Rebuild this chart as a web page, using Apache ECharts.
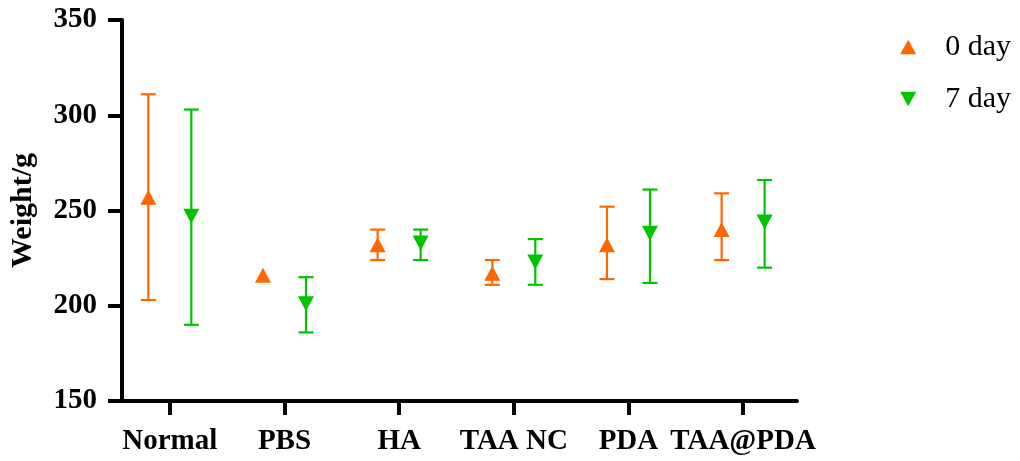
<!DOCTYPE html>
<html>
<head>
<meta charset="utf-8">
<script src="https://cdn.jsdelivr.net/npm/echarts@6/dist/echarts.min.js"></script>
<style>html,body{margin:0;padding:0;background:#fff}#c{width:1020px;height:461px}</style>
</head>
<body>
<div id="c"></div>
<script>
const categories = ['Normal', 'PBS', 'HA', 'TAA NC', 'PDA', 'TAA@PDA'];
const yTicks = [150, 200, 250, 300, 350];
const seriesNames = ['0 day', '7 day'];
const day0Mean = [257, 216, 232, 217, 232, 240];
const day0Low  = [203, 216, 224, 211, 214, 224];
const day0High = [311, 216, 240, 224, 252, 259];
const day7Mean = [247, 201, 233, 223, 238, 244];
const day7Low  = [190, 186, 224, 211, 212, 220];
const day7High = [303, 215, 240, 235, 261, 266];

const ORANGE = '#FF6600', GREEN = '#00C400';
const FONT = '"Liberation Serif", "Times New Roman", serif';
const OFFSET = 21.5;

function errData(low, high) {
  return categories.map((c, i) => [i, low[i], high[i]]);
}
function errSeries(name, low, high, color, dx) {
  return {
    type: 'custom', name: name, silent: true, z: 2,
    data: errData(low, high),
    renderItem: function (params, api) {
      const x = api.coord([api.value(0), api.value(1)])[0] + dx;
      const yl = api.coord([api.value(0), api.value(1)])[1];
      const yh = api.coord([api.value(0), api.value(2)])[1];
      if (Math.abs(yl - yh) < 0.5) return null;
      const hw = 7.5;
      const st = { stroke: color, lineWidth: 2.2 };
      return { type: 'group', children: [
        { type: 'line', shape: { x1: x, y1: yl, x2: x, y2: yh }, style: st },
        { type: 'line', shape: { x1: x - hw, y1: yl, x2: x + hw, y2: yl }, style: st },
        { type: 'line', shape: { x1: x - hw, y1: yh, x2: x + hw, y2: yh }, style: st }
      ]};
    }
  };
}

const downTri = 'path://M0,0 L10,0 L5,9 Z';
const upTri = 'path://M5,0 L10,9 L0,9 Z';

const chart = echarts.init(document.getElementById('c'), null, { renderer: 'canvas' });
chart.setOption({
  animation: false,
  backgroundColor: '#fff',
  grid: { left: 118, right: 223, top: 20, bottom: 60, containLabel: false },
  legend: {
    right: 4, top: 27, orient: 'vertical', itemGap: 22,
    itemWidth: 16, itemHeight: 15,
    textStyle: { fontFamily: FONT, fontSize: 30, color: '#000', padding: [0, 0, 0, 24] },
    data: [
      { name: seriesNames[0], icon: upTri, itemStyle: { color: ORANGE } },
      { name: seriesNames[1], icon: downTri, itemStyle: { color: GREEN } }
    ]
  },
  xAxis: {
    type: 'value', min: -0.417, max: 5.47,
    splitLine: { show: false },
    axisLine: { show: true, onZero: false, lineStyle: { color: '#000', width: 4 } },
    axisTick: { show: true, customValues: [0, 1, 2, 3, 4, 5], length: 14, lineStyle: { color: '#000', width: 4 } },
    axisLabel: {
      customValues: [0, 1, 2, 3, 4, 5], margin: 26,
      formatter: v => categories[Math.round(v)],
      fontFamily: FONT, fontWeight: 'bold', fontSize: 29, color: '#000'
    }
  },
  yAxis: {
    type: 'value', min: 150, max: 350, interval: 50,
    name: 'Weight/g', nameLocation: 'middle', nameRotate: 90, nameGap: 84,
    nameTextStyle: { fontFamily: FONT, fontWeight: 'bold', fontSize: 30, color: '#000' },
    splitLine: { show: false },
    axisLine: { show: true, onZero: false, lineStyle: { color: '#000', width: 4 } },
    axisTick: { show: true, length: 14, lineStyle: { color: '#000', width: 4 } },
    axisLabel: {
      margin: 25, fontFamily: FONT, fontWeight: 'bold', fontSize: 29, color: '#000',
      customValues: yTicks
    }
  },
  series: [
    errSeries(seriesNames[0], day0Low, day0High, ORANGE, -OFFSET),
    errSeries(seriesNames[1], day7Low, day7High, GREEN, OFFSET),
    {
      type: 'scatter', name: seriesNames[0], z: 3,
      symbol: upTri, symbolSize: [16, 15], symbolOffset: [-OFFSET, 0],
      itemStyle: { color: ORANGE, opacity: 1 },
      data: categories.map((c, i) => [i, day0Mean[i]])
    },
    {
      type: 'scatter', name: seriesNames[1], z: 3,
      symbol: downTri, symbolSize: [16, 15], symbolOffset: [OFFSET, 0],
      itemStyle: { color: GREEN, opacity: 1 },
      data: categories.map((c, i) => [i, day7Mean[i]])
    }
  ]
});
</script>
</body>
</html>
